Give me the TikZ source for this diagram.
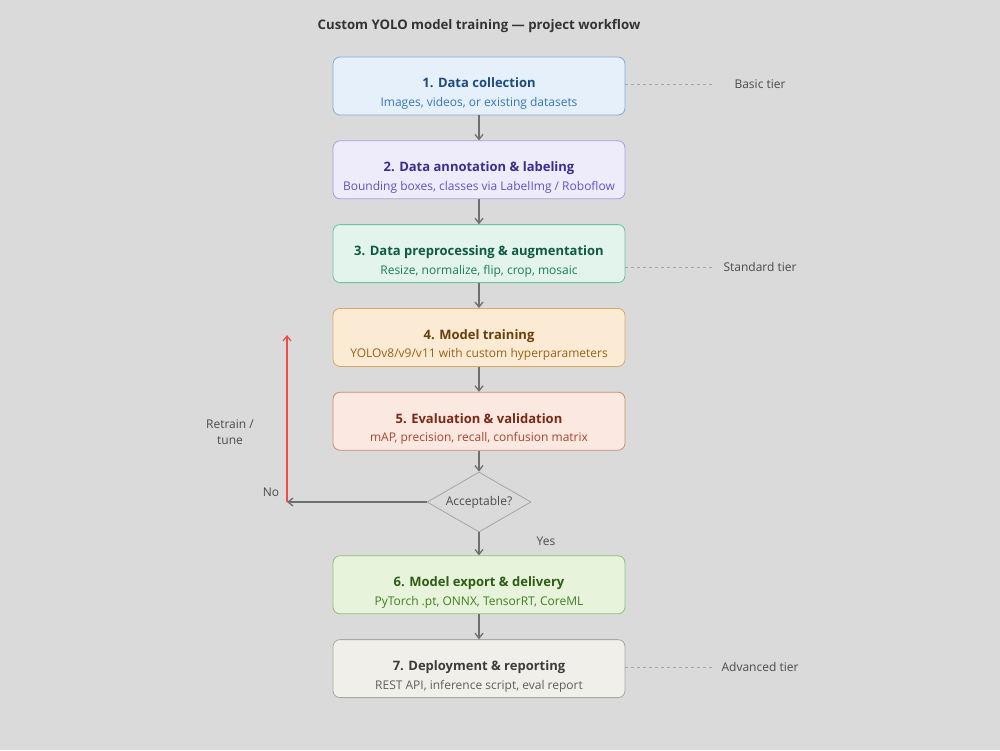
\documentclass[tikz,border=0pt]{standalone}
\usepackage{fontspec}
\setmainfont{Open Sans}
\usepackage{tikz}
\usetikzlibrary{arrows.meta,positioning,shapes.geometric}
\definecolor{canvas}{HTML}{DADADA}
\definecolor{flowgray}{HTML}{6F6F6F}
\definecolor{retrainred}{HTML}{EE4B4B}
\definecolor{tiergray}{HTML}{A5A5A5}
\definecolor{labelgray}{HTML}{4A4A4A}
\definecolor{bluefill}{HTML}{E6F0FA}
\definecolor{bluedraw}{HTML}{7FAAD6}
\definecolor{bluedeep}{HTML}{1D4C80}
\definecolor{bluesub}{HTML}{3576B8}
\definecolor{violetfill}{HTML}{EEEBFB}
\definecolor{violetdraw}{HTML}{A99CE2}
\definecolor{violetdeep}{HTML}{3C2D8C}
\definecolor{violetsub}{HTML}{6451C2}
\definecolor{tealfill}{HTML}{E2F4EC}
\definecolor{tealdraw}{HTML}{6CC3A2}
\definecolor{tealdeep}{HTML}{0F5A44}
\definecolor{tealsub}{HTML}{1A7B5D}
\definecolor{amberfill}{HTML}{FBEBD5}
\definecolor{amberdraw}{HTML}{DAA863}
\definecolor{amberdeep}{HTML}{6A3E0B}
\definecolor{ambersub}{HTML}{9A6016}
\definecolor{rustfill}{HTML}{FAE8E1}
\definecolor{rustdraw}{HTML}{D18B70}
\definecolor{rustdeep}{HTML}{782A15}
\definecolor{rustsub}{HTML}{A9452A}
\definecolor{greenfill}{HTML}{E7F3DA}
\definecolor{greendraw}{HTML}{8DC272}
\definecolor{greendeep}{HTML}{2E5D14}
\definecolor{greensub}{HTML}{3F7F20}
\definecolor{stonefill}{HTML}{F1EFEA}
\definecolor{stonedraw}{HTML}{A9A7A1}
\definecolor{stonedeep}{HTML}{3C3C3C}
\definecolor{stonesub}{HTML}{5E5E5E}
\newcommand{\stagetext}[4]{\begin{tabular}{@{}c@{}}\rule{0pt}{26pt}\color{#1}\fontsize{13}{16}\selectfont\bfseries #2\\[6pt]
  \color{#3}\fontsize{12}{15}\selectfont #4\end{tabular}}

\begin{document}
\begin{tikzpicture}[
    x=1pt, y=-1pt,
    node distance=25pt,
    stage/.style={rectangle, rounded corners=7pt, line width=0.8pt, minimum width=292pt,
                  minimum height=58pt, align=center, inner sep=0pt},
    check/.style={diamond, aspect=1.73, draw=tiergray, fill=canvas, line width=0.8pt,
                  minimum width=104pt, minimum height=60pt, inner sep=0pt,
                  text=labelgray, font=\fontsize{12}{14}\selectfont},
    arr/.style={-{Straight Barb[length=5pt, width=8pt]}, flowgray, line width=1.3pt},
    tierline/.style={tiergray, dashed, dash pattern=on 3pt off 3pt, line width=0.7pt},
    note/.style={text=labelgray, font=\fontsize{12}{16}\selectfont, align=center, inner sep=0pt}
  ]
  \useasboundingbox[fill=canvas] (0,0) rectangle (1000,750);

  \node[text=black!80, font=\fontsize{13.2}{16}\selectfont\bfseries] (title) at (479,26)
    {Custom YOLO model training --- project workflow};

  \node[stage, draw=bluedraw, fill=bluefill] (collect) at (479,86)
    {\stagetext{bluedeep}{1. Data collection}{bluesub}{Images, videos, or existing datasets}};
  \node[stage, draw=violetdraw, fill=violetfill, below=of collect] (annotate)
    {\stagetext{violetdeep}{2. Data annotation \& labeling}{violetsub}{Bounding boxes, classes via LabelImg / Roboflow}};
  \node[stage, draw=tealdraw, fill=tealfill, below=of annotate] (prep)
    {\stagetext{tealdeep}{3. Data preprocessing \& augmentation}{tealsub}{Resize, normalize, flip, crop, mosaic}};
  \node[stage, draw=amberdraw, fill=amberfill, below=of prep] (train)
    {\stagetext{amberdeep}{4. Model training}{ambersub}{YOLOv8/v9/v11 with custom hyperparameters}};
  \node[stage, draw=rustdraw, fill=rustfill, below=of train] (evaluate)
    {\stagetext{rustdeep}{5. Evaluation \& validation}{rustsub}{mAP, precision, recall, confusion matrix}};

  \node[check, below=21pt of evaluate] (accept) {Acceptable?};

  \node[stage, draw=greendraw, fill=greenfill, below=23pt of accept] (export)
    {\stagetext{greendeep}{6. Model export \& delivery}{greensub}{PyTorch .pt, ONNX, TensorRT, CoreML}};
  \node[stage, draw=stonedraw, fill=stonefill, below=of export] (deploy)
    {\stagetext{stonedeep}{7. Deployment \& reporting}{stonesub}{REST API, inference script, eval report}};

  % main flow
  \draw[arr] (collect) -- (annotate);
  \draw[arr] (annotate) -- (prep);
  \draw[arr] (prep) -- (train);
  \draw[arr] (train) -- (evaluate);
  \draw[arr] (evaluate) -- (accept);
  \draw[arr] (accept) -- (export);
  \draw[arr] (export) -- (deploy);
  \node[note] (yes) at (546,541) {Yes};

  % retrain loop
  \coordinate (loopx) at (287,335);
  \coordinate (loopcorner) at (accept.west -| loopx);
  \draw[arr] (accept.west) -- (loopcorner);
  \draw[-{Straight Barb[length=5pt, width=8pt]}, retrainred, line width=1.2pt] (loopcorner) -- (loopx);
  \node[note] (no) at (271,492) {No};
  \node[note] (retrain) at (230,432) {Retrain /\\tune};

  % tiers
  \coordinate (tierend) at (713,0);
  \node[note] (basic) at (760,84) {Basic tier};
  \node[note] (standard) at (760,267) {Standard tier};
  \node[note] (advanced) at (760,667) {Advanced tier};
  \draw[tierline] (collect.east |- basic) -- (tierend |- basic);
  \draw[tierline] (prep.east |- standard) -- (tierend |- standard);
  \draw[tierline] (deploy.east |- advanced) -- (tierend |- advanced);
\end{tikzpicture}
\end{document}
